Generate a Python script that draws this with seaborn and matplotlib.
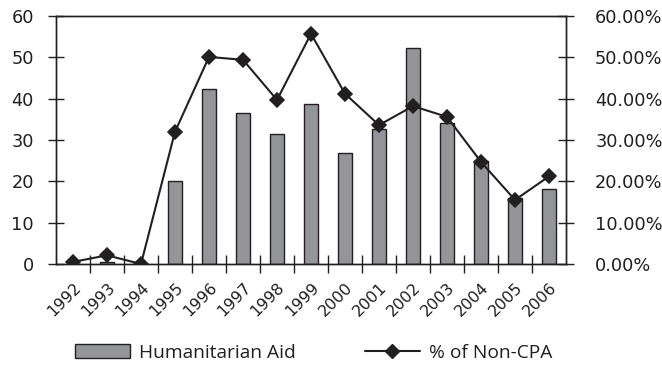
import matplotlib
matplotlib.use("Agg")
import matplotlib.pyplot as plt
import matplotlib.ticker as mticker
import matplotlib.transforms as mtransforms
from matplotlib.patches import Patch
from matplotlib.lines import Line2D
import seaborn as sns
import pandas as pd
import numpy as np

years = ["1992", "1993", "1994", "1995", "1996", "1997", "1998", "1999",
         "2000", "2001", "2002", "2003", "2004", "2005", "2006"]
humanitarian_aid = [0.0, 0.5, 0.0, 20.2, 42.3, 36.6, 31.5, 38.8,
                    26.9, 32.6, 52.2, 34.1, 24.8, 16.0, 18.1]
pct_non_cpa = [0.5, 2.1, 0.0, 32.0, 50.1, 49.4, 39.7, 55.7,
               41.2, 33.6, 38.2, 35.6, 24.7, 15.5, 21.2]

df = pd.DataFrame({"year": years, "aid": humanitarian_aid, "pct": pct_non_cpa})

sns.set_style("white")
plt.rcParams["font.family"] = ["DejaVu Sans"]
plt.rcParams["ytick.major.pad"] = 10
ink = "#231f20"
bar_color = "#939598"

fig = plt.figure(figsize=(6.62, 3.72), dpi=100)
ax = fig.add_axes([56 / 662, 1 - 264 / 372, 510 / 662, 248 / 372])

sns.barplot(data=df, x="year", y="aid", order=years, color=bar_color,
            width=0.44, edgecolor=ink, linewidth=1.0, saturation=1, ax=ax)

ax2 = ax.twinx()
sns.pointplot(data=df, x="year", y="pct", order=years, color=ink,
              markers="D", markersize=7.4, linewidth=1.5, ax=ax2)

n = len(years)
for a in (ax, ax2):
    a.set_xlim(-0.5, n - 0.5)
    a.set_ylim(0, 60)
    a.set_xlabel("")
    a.set_ylabel("")
    for s in a.spines.values():
        s.set_color(ink)
        s.set_linewidth(1.0)
    a.grid(False)

ax.set_yticks(np.arange(0, 61, 10))
ax2.set_yticks(np.arange(0, 61, 10))
ax2.yaxis.set_major_formatter(mticker.FuncFormatter(lambda v, p: f"{v:.2f}%"))

ax.tick_params(axis="y", direction="inout", length=12, width=1.0, color=ink,
               labelsize=12.8, labelcolor=ink, pad=10, left=True)
ax2.tick_params(axis="y", direction="inout", length=12, width=1.0, color=ink,
                labelsize=12.8, labelcolor=ink, pad=15, right=True)

# year labels at category centres, tick marks at category boundaries
ax.set_xticks(range(n))
ax.set_xticklabels(years, rotation=45, ha="right", va="top",
                   rotation_mode="anchor", fontsize=11.5, color=ink)
shift = mtransforms.ScaledTranslation(8 / 72, 0, fig.dpi_scale_trans)
for lab in ax.get_xticklabels():
    lab.set_transform(lab.get_transform() + shift)
ax.tick_params(axis="x", which="major", length=0, pad=11.5)
ax.set_xticks(np.arange(0.5, n - 1, 1.0), minor=True)
ax.tick_params(axis="x", which="minor", direction="inout", length=13,
               width=1.0, color=ink, bottom=True)
ax2.tick_params(axis="x", which="both", length=0)

handles = [
    Patch(facecolor=bar_color, edgecolor=ink, linewidth=1.0, label="Humanitarian Aid"),
    Line2D([0], [0], color=ink, linewidth=1.5, marker="D", markersize=7,
           label="% of Non-CPA"),
]
fig.legend(handles=handles, loc="center", bbox_to_anchor=(0.4736, 0.051),
           ncol=2, frameon=False,
           prop={"family": ["Open Sans", "DejaVu Sans"], "size": 13.8},
           handlelength=2.87, handleheight=0.74, columnspacing=3.6,
           handletextpad=0.47, labelcolor=ink)

fig.savefig("out.png", dpi=100)
